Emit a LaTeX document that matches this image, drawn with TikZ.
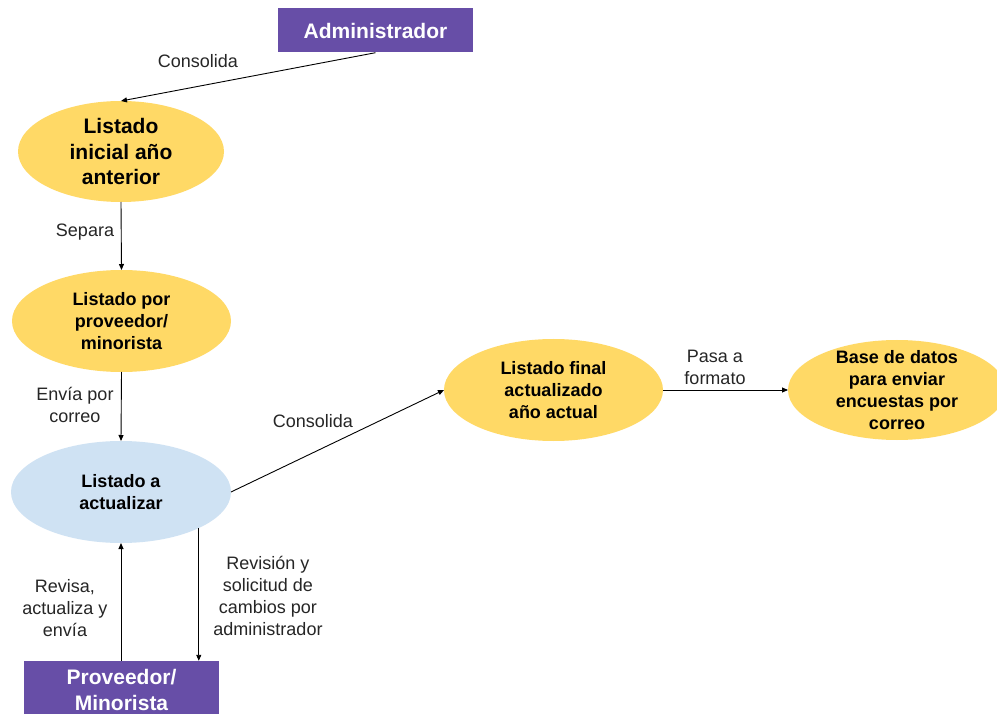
\documentclass[tikz,border=0pt]{standalone}
\usepackage{fontspec}
\setmainfont{Liberation Sans}
\usetikzlibrary{shapes.geometric,arrows.meta}
\definecolor{purp}{HTML}{674EA7}
\definecolor{yel}{HTML}{FFD966}
\definecolor{lblue}{HTML}{CFE2F3}
\begin{document}
\begin{tikzpicture}[x=1pt,y=-1pt,
  box/.style={rectangle, fill=purp, text=white, font=\fontsize{21}{26}\selectfont\bfseries, align=center, inner sep=0pt},
  ell/.style={ellipse, inner sep=0pt, outer sep=0pt},
  bt/.style={align=center, font=\fontsize{18}{22}\selectfont\bfseries},
  btl/.style={align=center, font=\fontsize{21}{25.5}\selectfont\bfseries},
  lab/.style={align=center, font=\fontsize{18}{22}\selectfont, text=black!85},
  arr/.style={-{Triangle[length=6pt,width=5pt]}, line width=0.9pt}]
\useasboundingbox[fill=white] (0,0) rectangle (997,714);

\node[box, minimum width=195pt, minimum height=44pt] (adm) at (375.5,30.5) {Administrador};

\node[ell, fill=yel, minimum width=206pt, minimum height=101pt] (e1) at (121,151.5) {};
\node[btl] (t1) at (e1) {Listado\\inicial año\\anterior};

\node[ell, fill=yel, minimum width=219pt, minimum height=102pt] (e2) at (121.5,321) {};
\node[bt] (t2) at (e2) {Listado por\\proveedor/\\minorista};

\node[ell, fill=lblue, minimum width=220pt, minimum height=102pt] (e3) at (121,492) {};
\node[bt] (t3) at (e3) {Listado a\\actualizar};

\node[ell, fill=yel, minimum width=219pt, minimum height=102pt] (e4) at (553.5,390) {};
\node[bt] (t4) at (e4) {Listado final\\actualizado\\año actual};

\node[ell, fill=yel, minimum width=218pt, minimum height=100pt] (e5) at (897,390) {};
\node[bt] (t5) at (e5) {Base de datos\\para enviar\\encuestas por\\correo};

\node[box, minimum width=195pt, minimum height=58pt] (pv) at (121.5,690) {Proveedor/\\Minorista};

\draw[arr] (adm.south) -- (e1.north);
\draw[arr] (e1.south) -- (e2.north);
\draw[arr] (e2.south) -- (e3.north);
\draw[arr] (e3.east) -- (e4.west);
\draw[arr] (e4.east) -- (e5.west);
\draw[arr] (pv.north -| e3.south) -- (e3.south);
\draw[arr] (e3.south east) -- (e3.south east |- pv.north);

\node[lab] (l1) at (198,61) {Consolida};
\node[lab] (l2) at (85,232) {Separa};
\node[lab] (l3) at (75,405) {Envía por\\correo};
\node[lab] (l4) at (313,421) {Consolida};
\node[lab] (l5) at (715,367) {Pasa a\\formato};
\node[lab] (l6) at (65,608) {Revisa,\\actualiza y\\envía};
\node[lab] (l7) at (268,596) {Revisión y\\solicitud de\\cambios por\\administrador};
\end{tikzpicture}
\end{document}
